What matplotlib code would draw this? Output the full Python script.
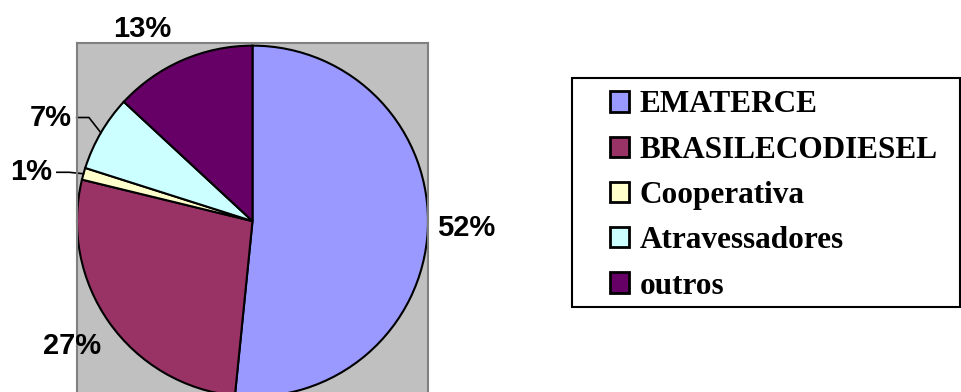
import numpy as np
import matplotlib
matplotlib.use('Agg')
from matplotlib import pyplot as plt
from matplotlib.patches import Rectangle

categories = ['EMATERCE', 'BRASILECODIESEL', 'Cooperativa', 'Atravessadores', 'outros']
shares = [51.6, 27.2, 1.1, 7.0, 13.1]
colors = ['#9999FF', '#993366', '#FFFFCC', '#CCFFFF', '#660066']

# label placement: radius and angular nudge (deg) from the wedge middle
label_r = [1.216, 1.25, 1.29, 1.29, 1.26]
label_nudge = [1.0, -0.45, 3.2, 3.0, 6.2]
has_leader = [False, False, True, True, False]

W, H = 961, 392
fig = plt.figure(figsize=(W / 100, H / 100), dpi=100)

# plot area (gray square), partly cut off at the bottom like the original
ax = fig.add_axes([77 / W, -2 / H, 351 / W, 351 / H])

wedges, _ = ax.pie(shares, colors=colors, startangle=90, counterclock=False,
                   frame=True,
                   wedgeprops=dict(edgecolor='black', linewidth=1.5))
ax.set_facecolor('#C0C0C0')
for s in ax.spines.values():
    s.set_color('#808080')
    s.set_linewidth(1.5)
ax.set_xticks([])
ax.set_yticks([])
ax.set_xlim(-1, 1)
ax.set_ylim(-0.985, 1.015)

total = sum(shares)
for w, v, r, dn, lead in zip(wedges, shares, label_r, label_nudge, has_leader):
    mid = (w.theta1 + w.theta2) / 2
    a = np.deg2rad(mid + dn)
    x, y = r * np.cos(a), r * np.sin(a)
    ax.text(x, y, f'{v / total * 100:.0f}%', ha='center', va='center',
            fontsize=21, fontweight='bold', family='Liberation Sans', clip_on=False)
    if lead:
        # elbow leader line from the label to the wedge edge
        ex, ey = np.cos(np.deg2rad(mid)), np.sin(np.deg2rad(mid))
        ax.plot([x + 0.145, x + 0.215, ex], [y, y, ey], color='black', lw=1.2,
                clip_on=False)

leg = fig.legend(wedges, categories, loc='upper left',
                 bbox_to_anchor=(610 / W, 1 - 90.5 / H), frameon=False,
                 prop=dict(family='Liberation Serif', weight='bold', size=22.5),
                 handlelength=0.62, handleheight=0.62, handletextpad=0.33,
                 labelspacing=0.52, borderpad=0, borderaxespad=0)
for h in leg.legend_handles:
    h.set_linewidth(2)
fig.add_artist(Rectangle((572 / W, 1 - 307 / H), (960 - 572) / W, (307 - 78) / H,
                         transform=fig.transFigure, fill=False, ec='black', lw=1.5))

fig.savefig('out.png', dpi=100)
